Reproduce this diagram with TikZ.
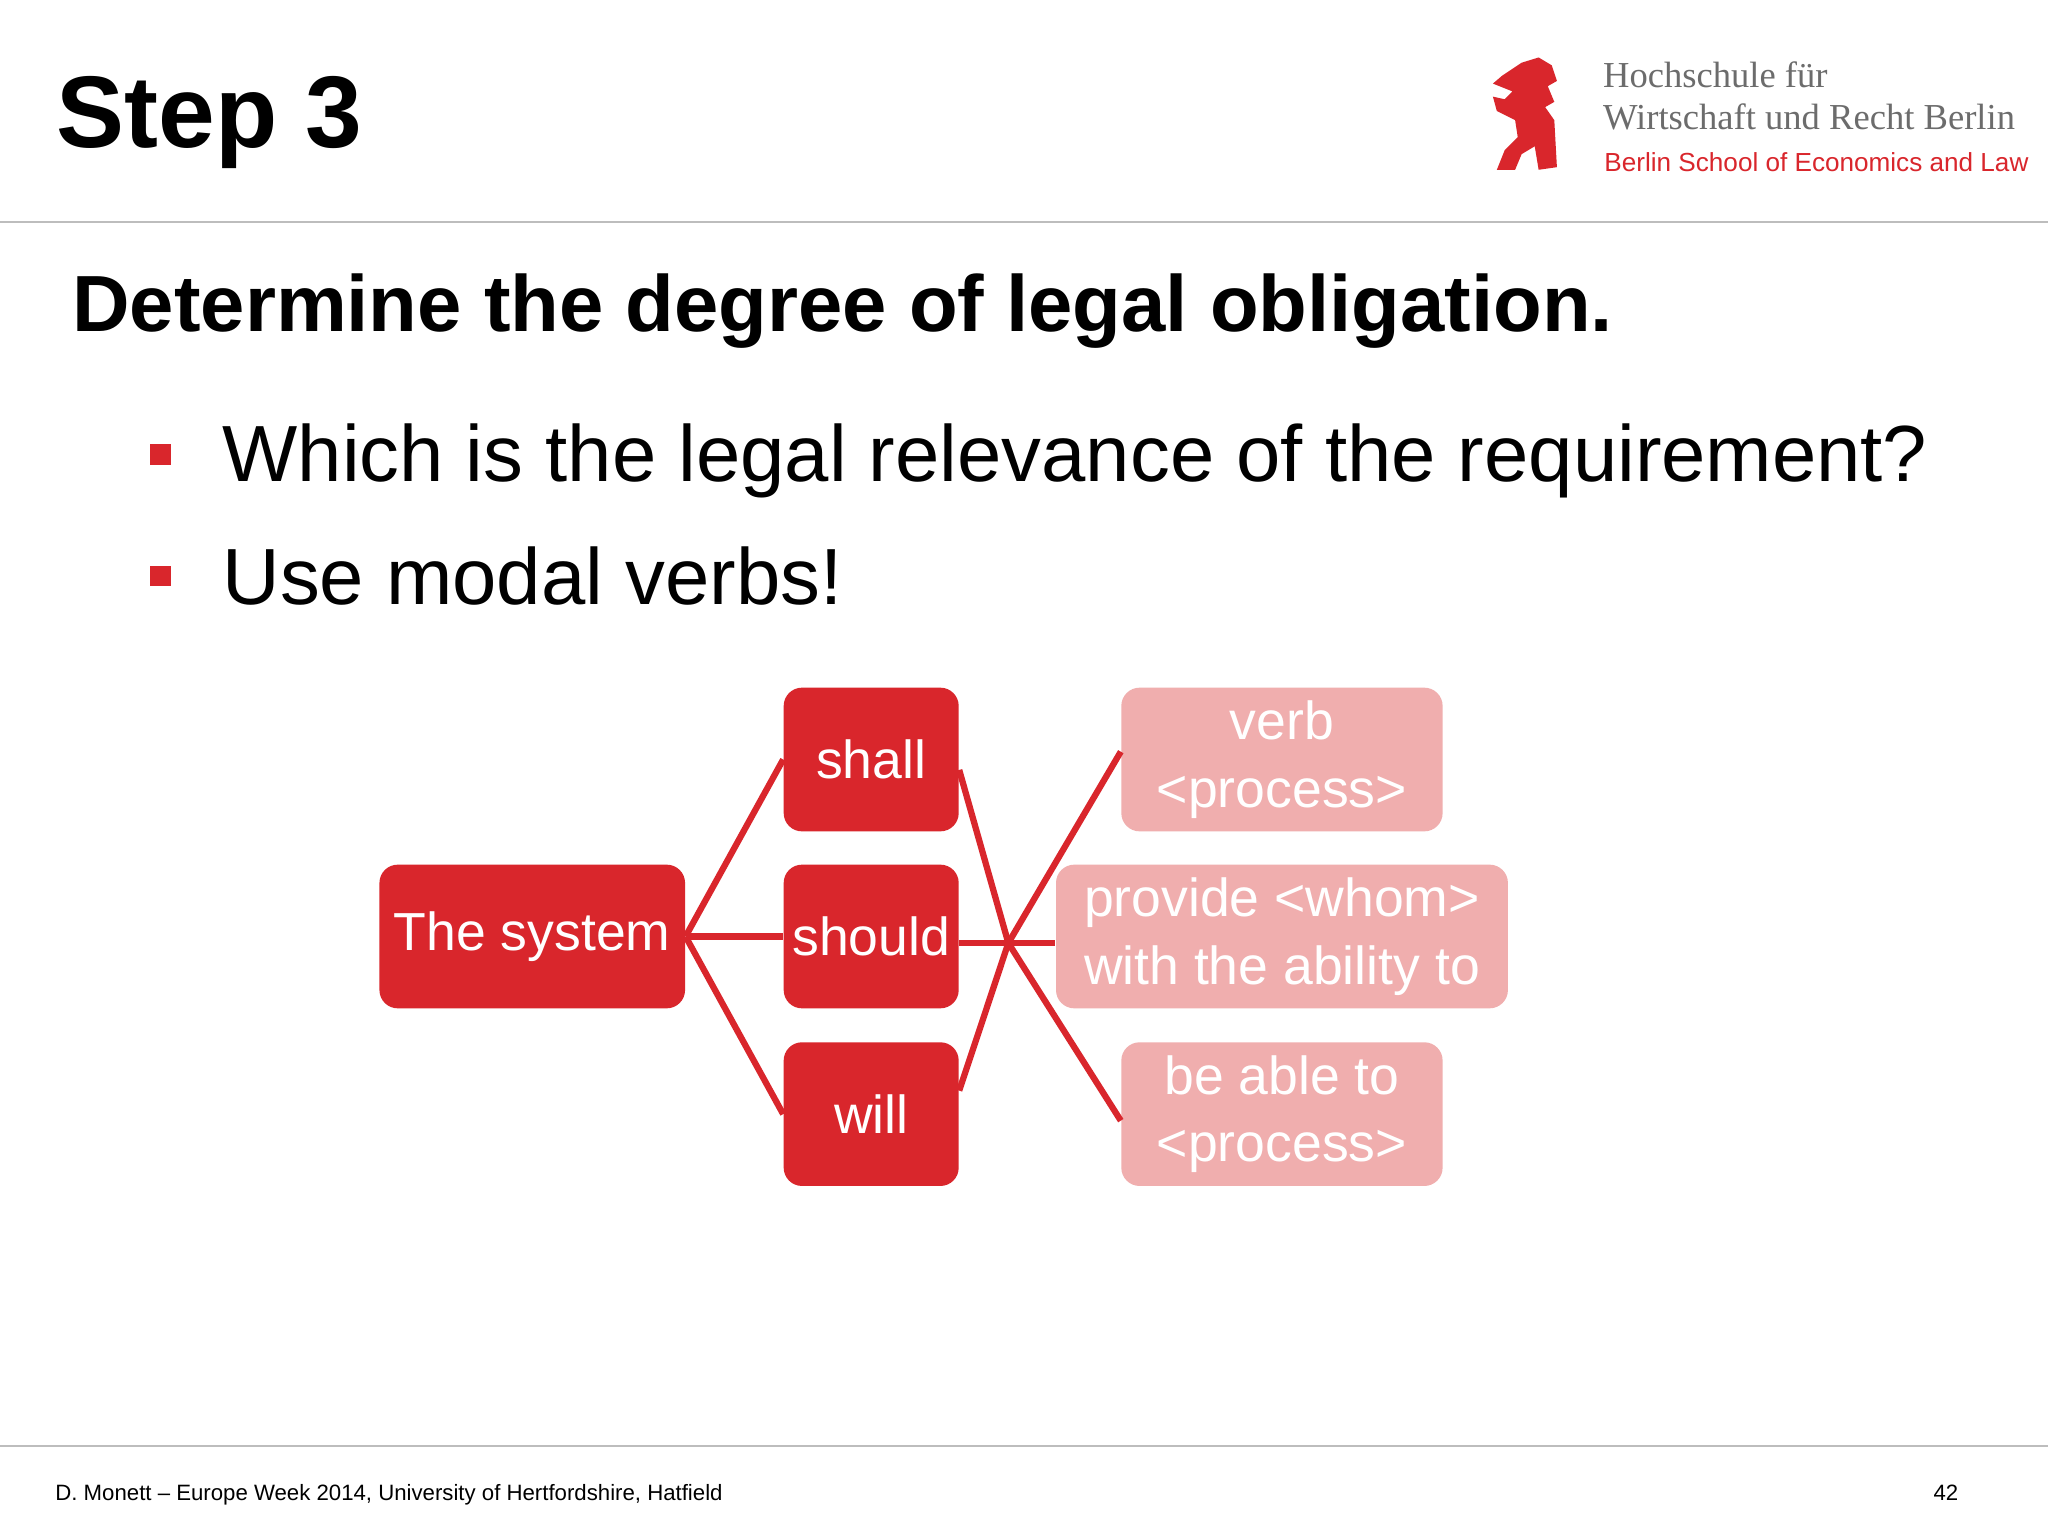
\documentclass[tikz,border=0pt]{standalone}
\usepackage{fontspec}
\setmainfont{Liberation Sans}
\newfontfamily\serifx{Liberation Serif}
\definecolor{hwrred}{HTML}{D9262C}
\definecolor{hwrpink}{HTML}{F0AEAE}
\definecolor{grayline}{HTML}{BDBDBD}
\begin{document}
\begin{tikzpicture}[x=0.5pt,y=-0.5pt,
  redbox/.style={fill=hwrred,rounded corners=7pt,text=white,font=\fontsize{20.5}{26}\selectfont,align=center,inner sep=0pt},
  pinkbox/.style={fill=hwrpink,rounded corners=7pt,text=white,font=\fontsize{20.5}{26}\selectfont,align=center,inner sep=0pt},
  conn/.style={hwrred,line width=2.4pt},
  bul/.style={fill=hwrred,minimum size=8pt,inner sep=0pt}]
\useasboundingbox (0,0) rectangle (1568,1176);
\fill[white] (0,0) rectangle (1568,1176);
\draw[grayline,line width=0.8pt] (0,170) -- (1568,170);
\draw[grayline,line width=0.8pt] (0,1107) -- (1568,1107);
\node[anchor=base west,inner sep=0,font=\fontsize{39}{46}\selectfont\bfseries] (title) at (43,113) {Step 3};
% logo
\fill[hwrred] (1150,58) -- (1165,48) -- (1178,44) -- (1188,50) -- (1192,62) -- (1185,66) -- (1190,78) -- (1183,82) -- (1190,92) -- (1192,128) -- (1178,130) -- (1175,112) -- (1165,118) -- (1160,130) -- (1146,130) -- (1152,115) -- (1162,105) -- (1160,92) -- (1146,85) -- (1143,74) -- (1152,76) -- (1158,70) -- (1143,64) -- cycle;
\node[anchor=base west,inner sep=0,text=gray!85!black,font=\serifx\fontsize{14}{16}\selectfont] (l1) at (1227,67) {Hochschule für};
\node[anchor=base west,inner sep=0,text=gray!85!black,font=\serifx\fontsize{14}{16}\selectfont] (l2) at (1227,99) {Wirtschaft und Recht Berlin};
\node[anchor=base west,inner sep=0,text=hwrred,font=\fontsize{10}{12}\selectfont] (l3) at (1228,131) {Berlin School of Economics and Law};
\node[anchor=base west,inner sep=0,font=\fontsize{30.5}{36}\selectfont\bfseries] (head) at (55,254) {Determine the degree of legal obligation.};
\node[bul] (b1) at (123,348) {};
\node[bul] (b2) at (123,441) {};
\node[anchor=base west,inner sep=0,font=\fontsize{30.5}{36}\selectfont] (t1) at (170,369) {Which is the legal relevance of the requirement?};
\node[anchor=base west,inner sep=0,font=\fontsize{30.5}{36}\selectfont] (t2) at (170,463) {Use modal verbs!};
% diagram
\node[redbox,minimum width=117pt,minimum height=55pt] (sys) at (407.5,717) {The system};
\node[redbox,minimum width=67pt,minimum height=55pt] (shall) at (667,581.5) {shall};
\node[redbox,minimum width=67pt,minimum height=55pt] (should) at (667,717) {should};
\node[redbox,minimum width=67pt,minimum height=55pt] (will) at (667,853) {will};
\node[pinkbox,minimum width=123pt,minimum height=55pt] (verb) at (981.5,581.5) {verb\\<process>};
\node[pinkbox,minimum width=173pt,minimum height=55pt] (prov) at (981.5,717) {provide <whom>\\with the ability to};
\node[pinkbox,minimum width=123pt,minimum height=55pt] (able) at (981.5,853) {be able to\\<process>};
\coordinate (j) at (772,722);
\draw[conn] (sys.east) -- (shall.west);
\draw[conn] (sys.east) -- (should.west);
\draw[conn] (sys.east) -- (will.west);
\draw[conn] ([yshift=-4pt]shall.east) -- (j);
\draw[conn] (should.east |- j) -- (j);
\draw[conn] ([yshift=9pt]will.east) -- (j);
\draw[conn] (j) -- ([yshift=3pt]verb.west);
\draw[conn] (j) -- (prov.west |- j);
\draw[conn] (j) -- ([yshift=-2.5pt]able.west);
\node[anchor=base west,inner sep=0,font=\fontsize{8.5}{10}\selectfont] (foot) at (42,1149) {D. Monett -- Europe Week 2014, University of Hertfordshire, Hatfield};
\node[anchor=base west,inner sep=0,font=\fontsize{8.5}{10}\selectfont] (page) at (1480,1149) {42};
\end{tikzpicture}
\end{document}
